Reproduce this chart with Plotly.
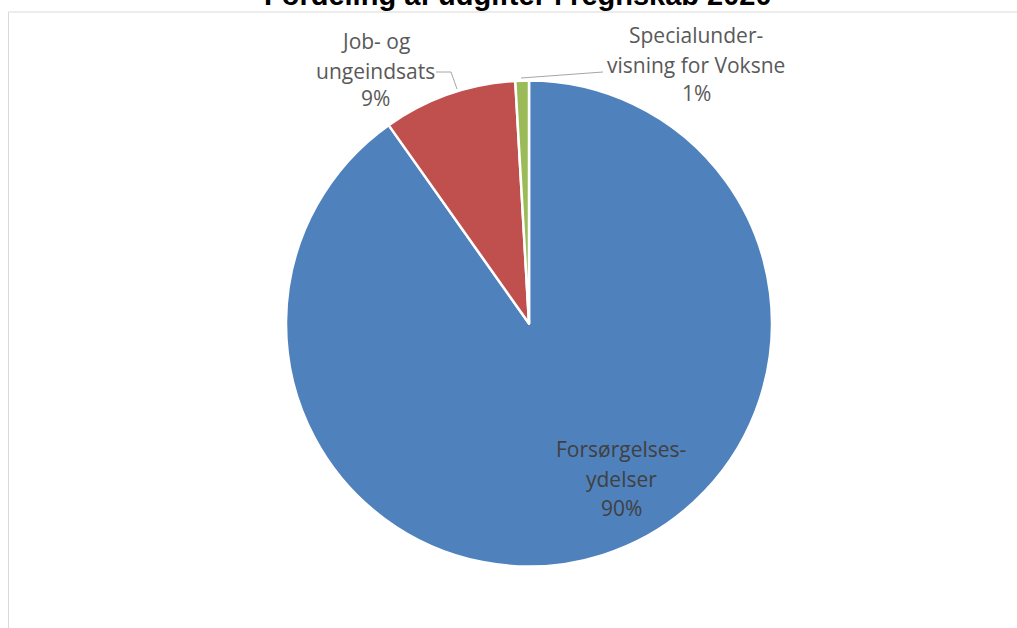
import plotly.graph_objects as go

# ---- data ----
categories = ["Forsørgelses-ydelser", "Job- og ungeindsats", "Specialunder-visning for Voksne"]
label_lines = [["Forsørgelses-", "ydelser"], ["Job- og", "ungeindsats"], ["Specialunder-", "visning for Voksne"]]
values = [90.2, 8.9, 0.9]
colors = ["#4F81BD", "#C0504D", "#9BBB59"]
title_text = "Fordeling af udgifter i regnskab 2020"

W, H = 1017, 628

def px(x):
    return x / W

def py(y):
    return 1 - y / H

fig = go.Figure()
fig.add_trace(go.Pie(
    labels=categories,
    values=values,
    sort=False,
    direction="clockwise",
    rotation=0,
    marker=dict(colors=colors, line=dict(color="white", width=2.5)),
    textinfo="none",
    hoverinfo="label+percent",
    domain=dict(x=[px(286), px(772)], y=[py(567), py(80)]),
    showlegend=False,
))

total = sum(values)
pcts = [f"{round(v / total * 100):d}%" for v in values]

# label positions (page-pixel centres of each text line)
label_pos = [
    (621, [449, 479, 508], "#404040"),
    (375, [41, 71, 98], "#595959"),
    (696, [35, 65, 93], "#595959"),
]
annotations = []
for lines, pct, (cx, ys, col) in zip(label_lines, pcts, label_pos):
    for txt, yy in zip(lines + [pct], ys):
        annotations.append(dict(
            x=px(cx), y=py(yy), xref="paper", yref="paper",
            text=txt, showarrow=False, xanchor="center", yanchor="middle",
            font=dict(family="Open Sans", size=21, color=col),
        ))

# title (partially above the visible page, as in the reference)
annotations.append(dict(
    x=px(518), y=py(12.5), xref="paper", yref="paper",
    text=f"<b>{title_text}</b>", showarrow=False, xanchor="center", yanchor="bottom",
    font=dict(family="Liberation Sans", size=29, color="#000000"),
))

def path(points):
    return "M " + " L ".join(f"{px(x)},{py(y)}" for x, y in points)

shapes = [
    # chart-area border (left and top edges visible)
    dict(type="path", xref="paper", yref="paper",
         path=path([(8.5, 640), (8.5, 12), (1030, 12)]),
         line=dict(color="#D9D9D9", width=1), layer="below"),
    dict(type="path", xref="paper", yref="paper",
         path=path([(436, 72), (451, 72), (457, 89)]),
         line=dict(color="#A6A6A6", width=1)),
    dict(type="path", xref="paper", yref="paper",
         path=path([(521, 78), (603, 72)]),
         line=dict(color="#A6A6A6", width=1)),
]

fig.update_layout(
    width=W, height=H,
    margin=dict(l=0, r=0, t=0, b=0),
    paper_bgcolor="white", plot_bgcolor="white",
    annotations=annotations,
    shapes=shapes,
)

fig.write_html(
    "out.html",
    config={"displayModeBar": False},
    post_script="document.body.style.margin='0'; document.body.style.overflow='hidden';",
)
